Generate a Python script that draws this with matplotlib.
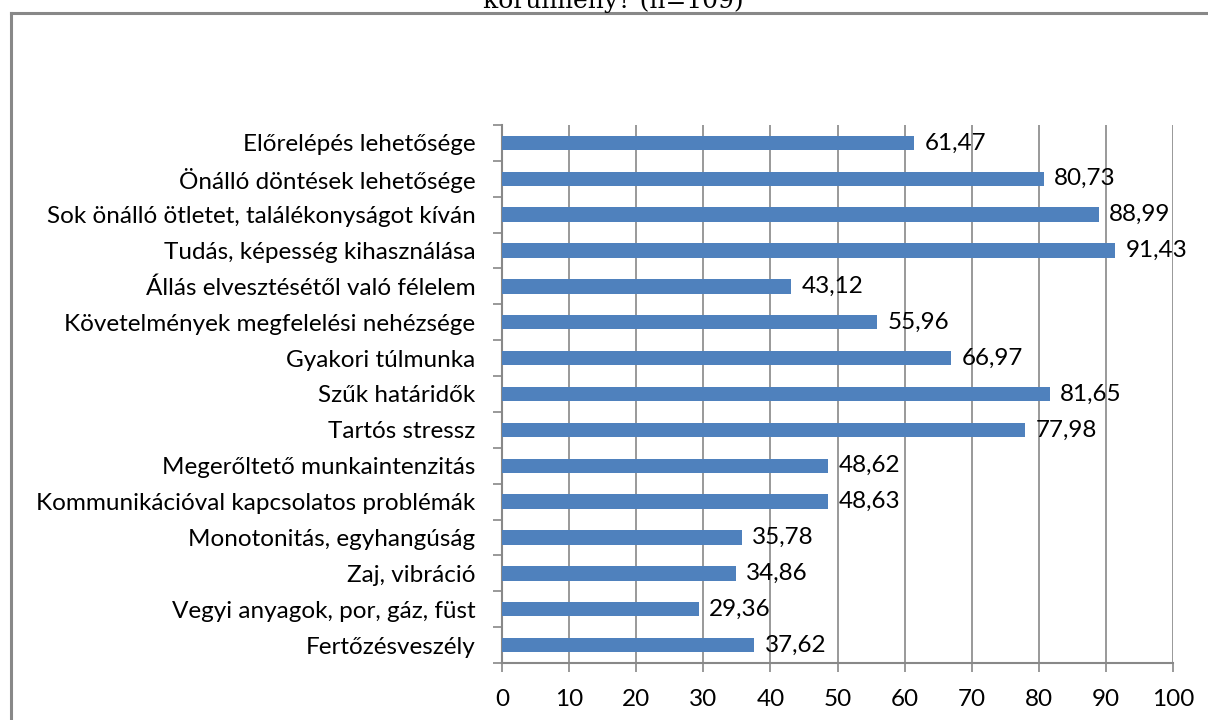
import matplotlib
matplotlib.use("Agg")
import matplotlib.pyplot as plt
from matplotlib.lines import Line2D
import numpy as np

categories = [
    "Előrelépés lehetősége",
    "Önálló döntések lehetősége",
    "Sok önálló ötletet, találékonyságot kíván",
    "Tudás, képesség kihasználása",
    "Állás elvesztésétől való félelem",
    "Követelmények megfelelési nehézsége",
    "Gyakori túlmunka",
    "Szűk határidők",
    "Tartós stressz",
    "Megerőltető munkaintenzitás",
    "Kommunikációval kapcsolatos problémák",
    "Monotonitás, egyhangúság",
    "Zaj, vibráció",
    "Vegyi anyagok, por, gáz, füst",
    "Fertőzésveszély",
]
values = [61.47, 80.73, 88.99, 91.43, 43.12, 55.96, 66.97, 81.65, 77.98,
          48.62, 48.63, 35.78, 34.86, 29.36, 37.62]
value_labels = ["61,47", "80,73", "88,99", "91,43", "43,12", "55,96", "66,97",
                "81,65", "77,98", "48,62", "48,63", "35,78", "34,86", "29,36", "37,62"]
xticks = list(range(0, 101, 10))

plt.rcParams['font.family'] = ['Lato', 'DejaVu Sans']
FS = 17.5

fig = plt.figure(figsize=(12.08, 7.2), dpi=100)
ax = fig.add_axes([502/1208, 1-663/720, (1173-502)/1208, (663-125)/720])

n = len(categories)
y = np.arange(n)
ax.barh(y, values, height=0.4, color="#4F81BD", zorder=3)
for yi, v, lab in zip(y, values, value_labels):
    ax.text(v + 1.5, yi, lab, va="center", ha="left", fontsize=FS, color="black", zorder=4)

ax.set_xlim(0, 100)
ax.set_ylim(n - 0.5, -0.5)
ax.set_xticks(xticks)
ax.set_xticklabels([str(t) for t in xticks], fontsize=FS)
ax.set_yticks(y)
ax.set_yticklabels(categories, fontsize=FS)
ax.tick_params(axis="y", length=0, pad=19)
ax.set_yticks(np.arange(-0.5, n, 1), minor=True)
ax.tick_params(axis="y", which="minor", length=6.5, color="#888888", width=1.2)
ax.tick_params(axis="x", length=6.5, color="#888888", width=1.2, pad=12)
ax.grid(axis="x", color="#888888", linewidth=1.2, zorder=0)
for s in ["top", "right"]:
    ax.spines[s].set_visible(False)
for s in ["left", "bottom"]:
    ax.spines[s].set_color("#888888")
    ax.spines[s].set_linewidth(1.5)

# outer frame of the chart area (partially visible)
fig.add_artist(Line2D([11/1208, 1], [1-13/720, 1-13/720], transform=fig.transFigure,
                      color="#888888", linewidth=2.2))
fig.add_artist(Line2D([11/1208, 11/1208], [1-13/720, 0], transform=fig.transFigure,
                      color="#888888", linewidth=2.2))
fig.text(613/1208, 1-8/720, "körülmény? (n=109)", ha="center", va="baseline",
         fontsize=18, family="DejaVu Serif")

fig.savefig("out.png", dpi=100)
